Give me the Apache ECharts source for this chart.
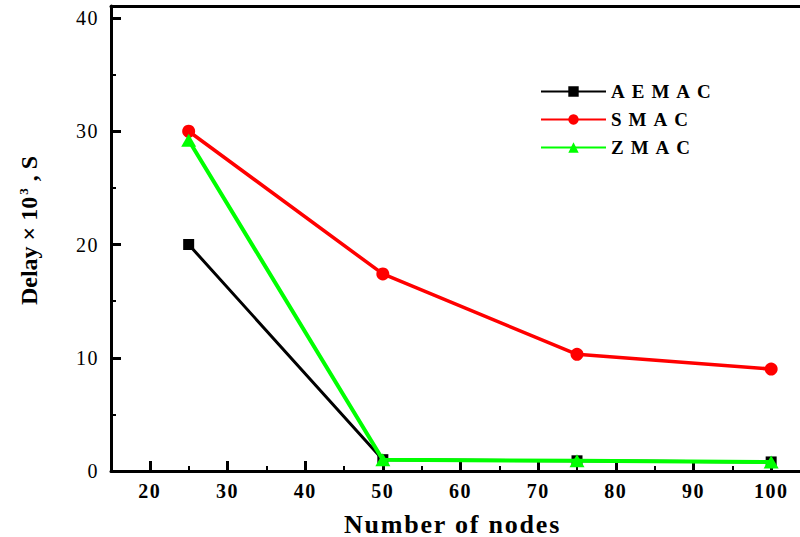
<!DOCTYPE html>
<html>
<head>
<meta charset="utf-8">
<script src="https://cdn.jsdelivr.net/npm/echarts@6/dist/echarts.min.js"></script>
<style>
  html, body { margin: 0; padding: 0; background: #fff; }
  #chart { width: 800px; height: 537px; }
  /* letter spacing per text size (SVG renderer writes font size into the style attribute) */
  #chart text[style*="19px"] { letter-spacing: 7px; }
  #chart text[style*="20px"] { letter-spacing: 1.5px; }
  #chart text[style*="26px"] { letter-spacing: 1.8px; }
</style>
</head>
<body>
<div id="chart"></div>
<script>
// Number of nodes on the x axis
const nodes = [25, 50, 75, 100];
// Delay (x 10^3 s) per protocol
const aemac = [20.0, 1.0, 0.9, 0.8];
const smac = [30.0, 17.4, 10.3, 9.0];
const zmac = [29.2, 1.0, 0.9, 0.8];

const seriesNames = ['AEMAC', 'SMAC', 'ZMAC'];
const seriesColors = ['#000000', '#ff0000', '#00ff00'];

const serif = "'Liberation Serif', 'Times New Roman', serif";

function pairs(xs, ys) {
  return xs.map((x, i) => [x, ys[i]]);
}

const chart = echarts.init(document.getElementById('chart'), null, { renderer: 'svg' });

chart.setOption({
  animation: false,
  backgroundColor: '#ffffff',
  grid: [
    { left: 111, right: -10, top: 18, bottom: 66, outerBoundsMode: 'none', containLabel: false },
    { left: 111, right: -10, top: 6, bottom: 66, outerBoundsMode: 'none', containLabel: false }
  ],
  legend: {
    orient: 'vertical',
    left: 535,
    top: 77,
    itemWidth: 65,
    itemHeight: 13,
    itemGap: 9,
    data: seriesNames,
    textStyle: { fontFamily: serif, fontSize: 19, fontWeight: 'bold', color: '#000' }
  },
  xAxis: [
    {
      type: 'value',
      gridIndex: 0,
      min: 15,
      max: 105,
      splitNumber: 9,
      name: 'Number of nodes',
      nameLocation: 'middle',
      nameGap: 40,
      nameTextStyle: { fontFamily: serif, fontSize: 26, fontWeight: 'bold', color: '#000', padding: [0, 16, 0, 0] },
      axisLine: { show: true, onZero: false, lineStyle: { color: '#000', width: 3 } },
      axisTick: { show: true, inside: true, length: 10, lineStyle: { color: '#000', width: 3 } },
      minorTick: { show: true, splitNumber: 2, length: 5, lineStyle: { color: '#000', width: 2 } },
      axisLabel: {
        margin: 10,
        fontFamily: serif,
        fontSize: 20,
        fontWeight: 'bold',
        color: '#000',
        formatter: v => (v % 10 === 0 ? String(v) : '')
      },
      splitLine: { show: false }
    },
    {
      type: 'value',
      gridIndex: 1,
      position: 'top',
      min: 15,
      max: 105,
      axisLine: { show: true, onZero: false, lineStyle: { color: '#000', width: 3 } },
      axisTick: { show: false },
      axisLabel: { show: false },
      splitLine: { show: false }
    }
  ],
  yAxis: [
    {
      type: 'value',
      gridIndex: 0,
      min: 0,
      max: 40,
      interval: 10,
      name: '{t|Delay × 10}{s|3}{t| , S}',
      nameLocation: 'middle',
      nameRotate: 90,
      nameGap: 70,
      nameTextStyle: {
        padding: [0, 0, 0, 28],
        rich: {
          t: { fontFamily: serif, fontSize: 24, fontWeight: 'bold', color: '#000' },
          s: { fontFamily: serif, fontSize: 13, fontWeight: 'bold', color: '#000', verticalAlign: 'top', padding: [0, 1, 0, 2] }
        }
      },
      axisLine: { show: true, onZero: false, lineStyle: { color: '#000', width: 3 } },
      axisTick: { show: true, inside: true, length: 10, lineStyle: { color: '#000', width: 3 } },
      minorTick: { show: true, splitNumber: 2, length: 5, lineStyle: { color: '#000', width: 2 } },
      axisLabel: { margin: 12, fontFamily: serif, fontSize: 20, color: '#000' },
      splitLine: { show: false }
    },
    {
      type: 'value',
      gridIndex: 1,
      min: 0,
      max: 1,
      axisLine: { show: true, onZero: false, lineStyle: { color: '#000', width: 3 } },
      axisTick: { show: false },
      axisLabel: { show: false },
      splitLine: { show: false }
    }
  ],
  series: [
    {
      name: seriesNames[0],
      type: 'line',
      xAxisIndex: 0,
      yAxisIndex: 0,
      data: pairs(nodes, aemac),
      symbol: 'rect',
      symbolSize: 11,
      color: seriesColors[0],
      lineStyle: { width: 3, color: seriesColors[0] },
      itemStyle: { color: seriesColors[0] },
      z: 2
    },
    {
      name: seriesNames[1],
      type: 'line',
      xAxisIndex: 0,
      yAxisIndex: 0,
      data: pairs(nodes, smac),
      symbol: 'circle',
      symbolSize: 13,
      color: seriesColors[1],
      lineStyle: { width: 3.5, color: seriesColors[1] },
      itemStyle: { color: seriesColors[1] },
      z: 3
    },
    {
      name: seriesNames[2],
      type: 'line',
      xAxisIndex: 0,
      yAxisIndex: 0,
      data: pairs(nodes, zmac),
      symbol: 'triangle',
      symbolSize: [15, 13],
      color: seriesColors[2],
      lineStyle: { width: 4, color: seriesColors[2] },
      itemStyle: { color: seriesColors[2] },
      z: 4
    }
  ]
});
</script>
</body>
</html>
